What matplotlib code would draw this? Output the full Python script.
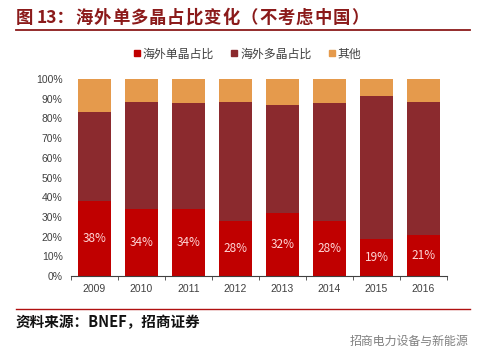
import numpy as np
import matplotlib
matplotlib.use("Agg")
import matplotlib.pyplot as plt
from matplotlib.lines import Line2D

plt.rcParams['font.family'] = ['Liberation Sans', 'Noto Sans CJK SC', 'DejaVu Sans']

# data
years = ['2009', '2010', '2011', '2012', '2013', '2014', '2015', '2016']
mono = [38, 34, 34, 28, 32, 28, 19, 21]          # 海外单晶占比
multi = [45.4, 54.3, 53.7, 60.3, 54.6, 59.8, 72.5, 67.3]  # 海外多晶占比
series_names = ['海外单晶占比', '海外多晶占比', '其他']

c_mono = '#C00000'
c_multi = '#8B2A2E'
c_other = '#E59A4C'
c_title = '#8B1A1A'

mono = np.array(mono, dtype=float)
multi = np.array(multi, dtype=float)
other = 100 - mono - multi

W, H = 483, 361
fig = plt.figure(figsize=(W / 100, H / 100), dpi=100)
ax = fig.add_axes([71 / W, 1 - 276 / H, 376 / W, 197 / H])

x = np.arange(len(years))
w = 0.7
ax.bar(x, mono, w, color=c_mono)
ax.bar(x, multi, w, bottom=mono, color=c_multi)
ax.bar(x, other, w, bottom=mono + multi, color=c_other)

for xi, v in zip(x, mono):
    ax.text(xi, v / 2, f'{v:.0f}%', ha='center', va='center',
            color='#FFD6D6', fontsize=8.5, family=['Noto Sans CJK SC'])

ax.set_xlim(-0.5, len(years) - 0.5)
ax.set_ylim(0, 100)
ax.set_yticks(np.arange(0, 101, 10))
ax.set_yticklabels([f'{v}%' for v in range(0, 101, 10)])
ax.set_xticks(x)
ax.set_xticklabels(years)
ax.set_xticks(np.arange(-0.5, len(years)), minor=True)
ax.tick_params(axis='x', which='major', length=0, pad=6, labelsize=7.5, labelcolor='#404040')
ax.tick_params(axis='x', which='minor', length=3, direction='out', color='#404040')
ax.tick_params(axis='y', length=0, pad=6, labelsize=7.5, labelcolor='#404040')
for s in ['top', 'right', 'left']:
    ax.spines[s].set_visible(False)
ax.spines['bottom'].set_color('#404040')
ax.spines['bottom'].set_linewidth(0.8)

# legend
handles = [Line2D([], [], marker='s', linestyle='none', markersize=4.5, color=c)
           for c in [c_mono, c_multi, c_other]]
fig.legend(handles, series_names, loc='center', bbox_to_anchor=(246 / W, 1 - 54 / H),
           ncol=3, frameon=False, handletextpad=0.0, columnspacing=1.2, handlelength=1.0,
           labelcolor='#404040', prop={'family': 'Noto Sans CJK SC', 'size': 8.6})

# title, drawn with wide letter spacing like the original
title_font = dict(fontsize=12.5, fontweight='bold', color=c_title, family=['Noto Sans CJK SC'],
                  ha='left', va='center')
ty = 1 - 18 / H
fig.text(16 / W, ty, '图', **title_font)
fig.text(37 / W, ty, '13：', **title_font)
for i, ch in enumerate('海外单多晶占比变化（不考虑中国）'):
    fig.text((75 + i * 18.4) / W, ty, ch, **title_font)

fig.add_artist(Line2D([16 / W, 470 / W], [1 - 30 / H, 1 - 30 / H], color=c_title, lw=1.3))
fig.add_artist(Line2D([16 / W, 470 / W], [1 - 309 / H, 1 - 309 / H], color='#B01010', lw=1.0))
fig.text(16 / W, 1 - 322 / H, '资料来源：BNEF，招商证券', ha='left', va='center',
         fontsize=10.5, fontweight='bold', color='#111111', family=['Noto Sans CJK SC'])
fig.text(468 / W, 1 - 341 / H, '招商电力设备与新能源', ha='right', va='center',
         fontsize=8.6, color='#808080', family=['Noto Sans CJK SC'])

fig.savefig('out.png', dpi=100, facecolor='white')
